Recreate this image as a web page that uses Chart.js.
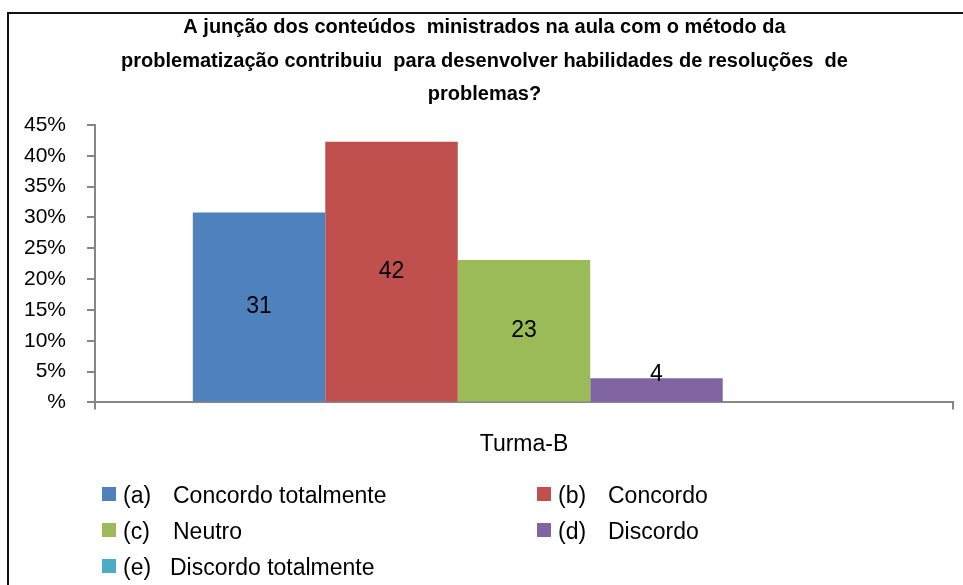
<!DOCTYPE html>
<html>
<head>
<meta charset="utf-8">
<script src="https://cdn.jsdelivr.net/npm/chart.js@4/dist/chart.umd.min.js"></script>
<style>
    html, body { margin: 0; padding: 0; background: #fff; overflow: hidden; }
    .frame { position: absolute; left: 7px; top: 12px; width: 1000px; height: 620px;
             border-left: 2px solid #111; border-top: 2px solid #111; }
    .wrap { position: absolute; left: 0; top: 0; width: 963px; height: 585px; }
</style>
</head>
<body>
<div class="frame"></div>
<div class="wrap"><canvas id="myChart"></canvas></div>
<script>
// values (percent of Turma-B)
const categories = ['Turma-B'];
const seriesCodes = ['(a)', '(b)', '(c)', '(d)', '(e)'];
const seriesNames = ['Concordo totalmente', 'Concordo', 'Neutro', 'Discordo', 'Discordo totalmente'];
const seriesValues = [30.8, 42.3, 23.1, 3.9, 0];
const seriesColors = ['#4F81BD', '#C0504D', '#9BBB59', '#8064A2', '#4BACC6'];
const yTickLabels = ['%', '5%', '10%', '15%', '20%', '25%', '30%', '35%', '40%', '45%'];
const titleLines = [
    'A junção dos conteúdos  ministrados na aula com o método da',
    'problematização contribuiu  para desenvolver habilidades de resoluções  de',
    'problemas?'
];

const FONT = "'Liberation Sans', Arial, sans-serif";

// number inside each bar (small bars get it nearer the top)
const barLabels = {
    id: 'barLabels',
    afterDatasetsDraw(chart) {
        const ctx = chart.ctx;
        ctx.save();
        ctx.font = '23px ' + FONT;
        ctx.fillStyle = '#000';
        ctx.textAlign = 'center';
        ctx.textBaseline = 'middle';
        chart.data.datasets.forEach((ds, i) => {
            const meta = chart.getDatasetMeta(i);
            meta.data.forEach((bar, j) => {
                const v = ds.data[j];
                if (!v) return;
                const y = Math.min((bar.y + bar.base) / 2, bar.base - 27);
                ctx.fillText(Math.round(v), bar.x, y);
            });
        });
        ctx.restore();
    }
};

// two-column legend under the axis
const gridLegend = {
    id: 'gridLegend',
    afterDraw(chart) {
        const ctx = chart.ctx;
        const colX = [102, 537];
        const rowY = [487, 523, 559];
        ctx.save();
        ctx.font = '23px ' + FONT;
        ctx.textBaseline = 'middle';
        chart.data.datasets.forEach((ds, i) => {
            const x = colX[i % 2];
            const y = rowY[Math.floor(i / 2)];
            ctx.fillStyle = ds.backgroundColor;
            ctx.fillRect(x, y, 14, 14);
            ctx.fillStyle = '#000';
            ctx.fillText(seriesCodes[i], x + 21, y + 10);
            ctx.fillText(seriesNames[i], x + (i === 4 ? 68 : 71), y + 10);
        });
        ctx.restore();
    }
};

const chartData = {
    labels: categories,
    datasets: seriesNames.map((name, i) => ({
        label: seriesCodes[i] + ' ' + name,
        data: [seriesValues[i]],
        backgroundColor: seriesColors[i],
        borderWidth: 0,
        barPercentage: 1,
        categoryPercentage: 0.772
    }))
};

const ctx = document.getElementById('myChart');
new Chart(ctx, {
    type: 'bar',
    data: chartData,
    plugins: [barLabels, gridLegend],
    options: {
        responsive: true,
        maintainAspectRatio: false,
        animation: false,
        layout: { padding: { left: 16, right: 10, top: 0, bottom: 106 } },
        scales: {
            x: {
                grid: { drawOnChartArea: false, color: '#868686', tickLength: 7, lineWidth: 2 },
                border: { color: '#868686', width: 2 },
                ticks: { color: '#000', font: { family: FONT, size: 23 }, padding: 21 }
            },
            y: {
                min: 0,
                max: 45,
                afterFit: (scale) => { scale.width = 79; },
                grid: { drawOnChartArea: false, color: '#868686', tickLength: 8, lineWidth: 2 },
                border: { color: '#868686', width: 2 },
                ticks: {
                    stepSize: 5,
                    color: '#000',
                    padding: 21,
                    font: { family: FONT, size: 21 },
                    callback: (v, i) => yTickLabels[i]
                }
            }
        },
        plugins: {
            legend: { display: false },
            tooltip: { enabled: false },
            title: {
                display: true,
                text: titleLines,
                color: '#000',
                font: { family: FONT, size: 20, weight: 'bold', lineHeight: 1.675 },
                padding: { top: 11, bottom: 13.5 }
            }
        }
    }
});
</script>
</body>
</html>
